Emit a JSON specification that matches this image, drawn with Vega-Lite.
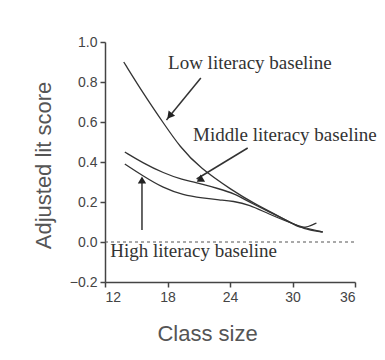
{
  "$schema": "https://vega.github.io/schema/vega-lite/v6.json",
  "autosize": {"type": "none"},
  "width": 250,
  "height": 240,
  "padding": {"left": 105, "top": 42, "right": 30, "bottom": 78},
  "background": "white",
  "config": {
    "view": {"stroke": null},
    "axis": {
      "domainColor": "#444",
      "domainWidth": 1.5,
      "tickColor": "#444",
      "tickWidth": 1.5,
      "tickSize": 5,
      "grid": false,
      "labelFont": "Liberation Sans",
      "labelFontSize": 14,
      "labelColor": "#444",
      "labelPadding": 3,
      "labelOverlap": false,
      "titleFont": "Liberation Sans",
      "titleFontSize": 22,
      "titleFontWeight": "normal",
      "titleColor": "#555"
    }
  },
  "datasets": {
    "curves": [
      {"series": "Low", "x": 13.8, "y": 0.90},
      {"series": "Low", "x": 15.65, "y": 0.745},
      {"series": "Low", "x": 17.6, "y": 0.595},
      {"series": "Low", "x": 19.2, "y": 0.475},
      {"series": "Low", "x": 21.1, "y": 0.37},
      {"series": "Low", "x": 24.3, "y": 0.255},
      {"series": "Low", "x": 26.2, "y": 0.195},
      {"series": "Low", "x": 29.75, "y": 0.10},
      {"series": "Low", "x": 31.0, "y": 0.065},
      {"series": "Low", "x": 32.9, "y": 0.05},
      {"series": "Middle", "x": 13.9, "y": 0.45},
      {"series": "Middle", "x": 15.65, "y": 0.395},
      {"series": "Middle", "x": 17.6, "y": 0.345},
      {"series": "Middle", "x": 19.5, "y": 0.31},
      {"series": "Middle", "x": 20.6, "y": 0.30},
      {"series": "Middle", "x": 23.0, "y": 0.265},
      {"series": "Middle", "x": 24.3, "y": 0.245},
      {"series": "Middle", "x": 26.2, "y": 0.19},
      {"series": "Middle", "x": 27.8, "y": 0.15},
      {"series": "Middle", "x": 29.75, "y": 0.10},
      {"series": "Middle", "x": 30.7, "y": 0.07},
      {"series": "Middle", "x": 31.5, "y": 0.075},
      {"series": "Middle", "x": 32.3, "y": 0.095},
      {"series": "High", "x": 13.9, "y": 0.39},
      {"series": "High", "x": 15.65, "y": 0.33},
      {"series": "High", "x": 17.6, "y": 0.27},
      {"series": "High", "x": 19.5, "y": 0.235},
      {"series": "High", "x": 21.4, "y": 0.22},
      {"series": "High", "x": 23.0, "y": 0.21},
      {"series": "High", "x": 24.3, "y": 0.205},
      {"series": "High", "x": 25.9, "y": 0.185},
      {"series": "High", "x": 27.5, "y": 0.145},
      {"series": "High", "x": 30.7, "y": 0.075},
      {"series": "High", "x": 32.9, "y": 0.05}
    ],
    "arrows": [
      {"x": 21.2, "y": 0.82, "x2": 17.9, "y2": 0.61},
      {"x": 25.7, "y": 0.47, "x2": 20.8, "y2": 0.315},
      {"x": 15.55, "y": 0.06, "x2": 15.55, "y2": 0.32}
    ],
    "heads": [
      {"x": 18.2, "y": 0.63, "angle": 219},
      {"x": 21.1, "y": 0.31, "angle": 239},
      {"x": 15.55, "y": 0.31, "angle": 0}
    ],
    "labels": [
      {"x": 18.05, "y": 0.895, "text": "Low literacy baseline"},
      {"x": 20.45, "y": 0.535, "text": "Middle literacy baseline"},
      {"x": 12.5, "y": -0.045, "text": "High literacy baseline"}
    ],
    "zero": [{"x": 12, "x2": 36, "y": 0}]
  },
  "encoding": {
    "x": {"field": "x", "type": "quantitative", "scale": {"domain": [12, 36], "nice": false, "zero": false},
      "axis": {"values": [12, 18, 24, 30, 36], "labelOverlap": false, "title": "Class size", "titleX": 102, "titleY": 51, "titleBaseline": "middle"}},
    "y": {"field": "y", "type": "quantitative", "scale": {"domain": [-0.2, 1.0], "nice": false, "zero": false},
      "axis": {"values": [-0.2, 0, 0.2, 0.4, 0.6, 0.8, 1.0], "labelOverlap": false, "format": ".1f", "title": "Adjusted lit score", "titleX": -62, "titleY": 123, "titleBaseline": "middle", "titleAlign": "center", "titleAngle": -90}}
  },
  "layer": [
    {
      "data": {"name": "zero"},
      "mark": {"type": "rule", "color": "#555", "strokeDash": [3, 3], "strokeWidth": 1.2},
      "encoding": {"x2": {"field": "x2"}}
    },
    {
      "data": {"name": "curves"},
      "mark": {"type": "line", "interpolate": "basis", "color": "#333", "strokeWidth": 1.3},
      "encoding": {"detail": {"field": "series"}}
    },
    {
      "data": {"name": "arrows"},
      "mark": {"type": "rule", "color": "#333", "strokeWidth": 1.5},
      "encoding": {"x2": {"field": "x2"}, "y2": {"field": "y2"}}
    },
    {
      "data": {"name": "heads"},
      "mark": {"type": "point", "shape": "triangle-up", "filled": true, "color": "#222", "size": 70, "opacity": 1},
      "encoding": {"angle": {"field": "angle", "type": "quantitative", "scale": null}}
    },
    {
      "data": {"name": "labels"},
      "mark": {"type": "text", "font": "Liberation Serif", "fontSize": 19, "color": "#333", "align": "left", "baseline": "middle"},
      "encoding": {"text": {"field": "text"}}
    }
  ]
}
